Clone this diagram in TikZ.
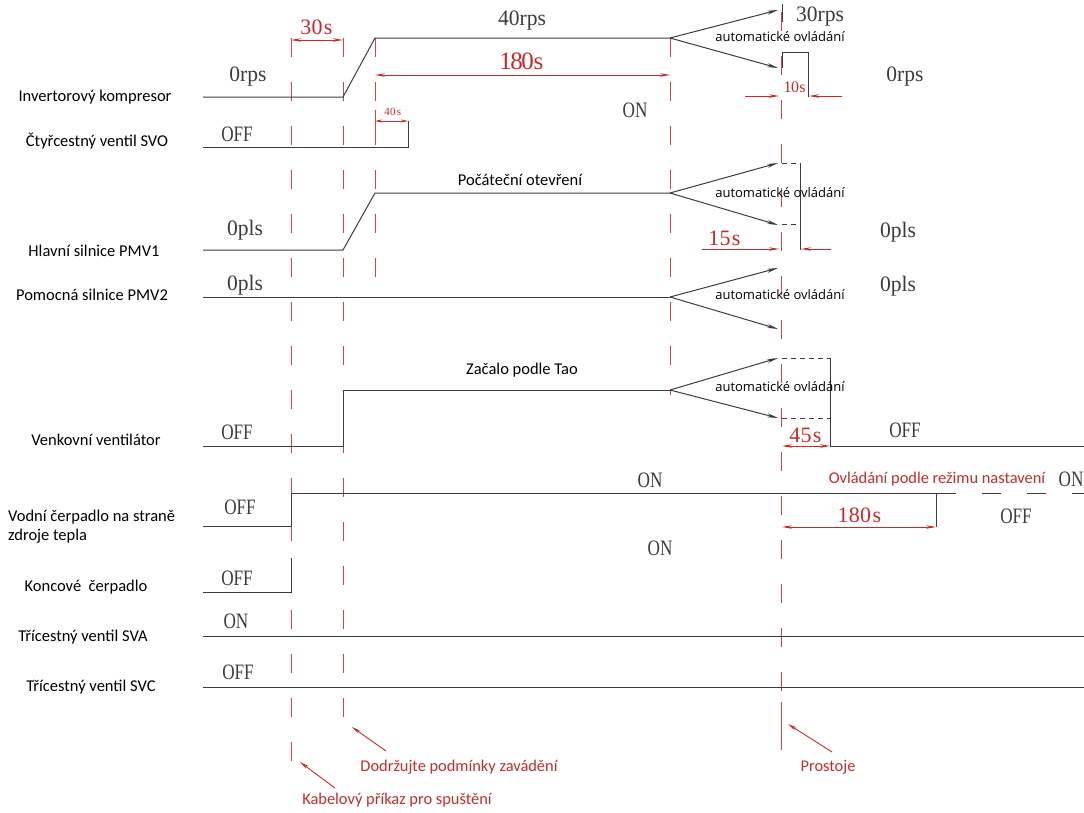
\documentclass[tikz,border=0pt]{standalone}
\usepackage{fontspec}
\setmainfont{Liberation Serif}
\newfontfamily\valfont[FakeStretch=0.78]{Liberation Serif}
\newfontfamily\unitfont[FakeStretch=0.98]{Liberation Serif}
\newfontfamily\dimfont{Liberation Serif}
\newfontfamily\labfont{Carlito}
\newfontfamily\autofont{Open Sans}
\usetikzlibrary{arrows.meta}
\definecolor{sigc}{RGB}{60,60,60}
\definecolor{guidec}{RGB}{210,70,70}
\definecolor{dimc}{RGB}{205,40,40}
\definecolor{txtred}{RGB}{195,45,45}
% monospaced setting: every character in a box of width \monow
\newlength\monow
\def\mono#1{\monoi#1\relax}
\def\monoi#1{\ifx#1\relax\else\makebox[\monow][c]{#1}\expandafter\monoi\fi}
\tikzset{
  sig/.style={draw=sigc, line width=1pt},
  guide/.style={draw=guidec, line width=1pt, dash pattern=on 19pt off 25pt},
  dim/.style={draw=dimc, line width=0.9pt, {Stealth[length=10pt,width=3.5pt]}-{Stealth[length=10pt,width=3.5pt]}},
  dimone/.style={draw=dimc, line width=0.9pt, -{Stealth[length=10pt,width=3.5pt]}},
  arr/.style={sig, -{Stealth[length=11pt,width=4pt]}},
  boxdash/.style={draw=sigc, line width=1pt, dash pattern=on 5pt off 4pt},
  annot/.style={draw=txtred, line width=0.9pt, -{Stealth[length=9pt,width=3.5pt]}},
  lab/.style={font=\labfont\fontsize{16.5}{19}\selectfont, text=black, inner sep=0pt},
  midlab/.style={font=\labfont\fontsize{16.5}{19}\selectfont, text=black, inner sep=0pt},
  val/.style={font=\valfont\fontsize{22}{24}\selectfont, text=sigc, inner sep=0pt},
  unit/.style={font=\unitfont\fontsize{22}{24}\selectfont, text=sigc, inner sep=0pt},
  dimtxt/.style={font=\dimfont\fontsize{22}{24}\selectfont\setlength\monow{11.2pt}, text=dimc, inner sep=0pt},
  dimbig/.style={font=\dimfont\fontsize{25}{27}\selectfont\setlength\monow{11pt}, text=dimc, inner sep=0pt},
  dimsmall/.style={font=\dimfont\fontsize{16}{18}\selectfont\setlength\monow{7.4pt}, text=dimc, inner sep=0pt},
  dimtiny/.style={font=\dimfont\fontsize{11}{13}\selectfont\setlength\monow{6pt}, text=dimc, inner sep=0pt},
  auto/.style={font=\autofont\fontsize{13}{15}\selectfont, text=black, inner sep=0pt},
  redlab/.style={font=\labfont\fontsize{16.4}{19}\selectfont, text=txtred, inner sep=0pt},
}
\begin{document}
\begin{tikzpicture}[x=1pt,y=-1pt]
\useasboundingbox (0,0) rectangle (1084,812);
\fill[white] (0,0) rectangle (1084,812);

% ---------- vertical guides ----------
\coordinate (g1t) at (291,38);  \coordinate (g1b) at (291,778);
\coordinate (g2t) at (343,38);  \coordinate (g2b) at (343,732);
\coordinate (g3t) at (375,38);  \coordinate (g3b) at (375,292);
\coordinate (g4t) at (670,38);  \coordinate (g4b) at (670,395);
\coordinate (g5t) at (781,12);  \coordinate (g5m) at (781,702); \coordinate (g5b) at (781,750);
\draw[guide] (g1t) -- (g1b);
\draw[guide] (g2t) -- (g2b);
\draw[guide] (g3t) -- (g3b);
\draw[guide] (g4t) -- (g4b);
\draw[guide] (g5t) -- (g5m);
\draw[draw=guidec, line width=1pt] (g5m) -- (g5b);

% ---------- left labels ----------
\node[lab] (l1) at (95,97) {Invertorový kompresor};
\node[lab] (l2) at (97,141) {Čtyřcestný ventil SVO};
\node[lab] (l3) at (94,251) {Hlavní silnice PMV1};
\node[lab] (l4) at (92,295) {Pomocná silnice PMV2};
\node[lab] (l5) at (96,440) {Venkovní ventilátor};
\node[lab, anchor=west, align=left] (l6) at (8,527) {Vodní čerpadlo na straně\\zdroje tepla};
\node[lab] (l7) at (86,587) {Koncové\ \ čerpadlo};
\node[lab] (l8) at (83,637) {Třícestný ventil SVA};
\node[lab] (l9) at (91,687) {Třícestný ventil SVC};

% ---------- 1: compressor ----------
\coordinate (c0) at (203,97); \coordinate (c1) at (343,97); \coordinate (c2) at (375,38);
\coordinate (c3) at (670,38); \coordinate (c4) at (778,10); \coordinate (c5) at (778,68);
\draw[sig] (c0) -- (c1) -- (c2) -- (c3);
\draw[arr] (c3) -- (c4);
\draw[arr] (c3) -- (c5);
\coordinate (cb0) at (782,4); \coordinate (cb1) at (782,22);
\draw[sig] (cb0) -- (cb1);
\coordinate (cb2) at (782,68); \coordinate (cb3) at (782,52); \coordinate (cb4) at (808,52); \coordinate (cb5) at (808,97);
\draw[sig] (cb2) -- (cb3) -- (cb4) -- (cb5);
\node[unit] (v0rps) at (248,77) {0rps};
\node[unit] (v40) at (522,21) {40rps};
\node[val] (von1) at (635,110) {ON};
\node[unit] (v30) at (820,17) {30rps};
\node[auto] (a1) at (780,37) {automatické ovládání};
\node[unit] (v0rps2) at (905,77) {0rps};
% 30s
\coordinate (d30a) at (291,40); \coordinate (d30b) at (343,40);
\draw[dim] (d30a) -- (d30b);
\node[dimtxt] (t30) at (317,27) {\mono{30s}};
% 180s
\coordinate (d180a) at (375,75); \coordinate (d180b) at (670,75);
\draw[dim] (d180a) -- (d180b);
\node[dimbig] (t180) at (522,61) {\mono{180s}};
% 10s
\coordinate (d10a) at (745,96); \coordinate (d10b) at (779,96);
\coordinate (d10c) at (842,96); \coordinate (d10d) at (809,96);
\draw[dimone] (d10a) -- (d10b);
\draw[dimone] (d10c) -- (d10d);
\node[dimsmall] (t10) at (795,87) {\mono{10s}};

% ---------- 2: SVO ----------
\coordinate (s0) at (203,147); \coordinate (s1) at (408,147); \coordinate (s2) at (408,121);
\draw[sig] (s0) -- (s1) -- (s2);
\node[val] (voff2) at (237,134) {OFF};
\coordinate (d40a) at (375,121); \coordinate (d40b) at (408,121);
\draw[draw=dimc, line width=0.8pt, {Stealth[length=7pt,width=3pt]}-{Stealth[length=7pt,width=3pt]}] (d40a) -- (d40b);
\coordinate (e40a) at (375,110); \coordinate (e40b) at (375,132);
\draw[draw=guidec, line width=0.9pt] (e40a) -- (e40b);
\node[dimtiny] (t40) at (393,112) {\mono{40s}};

% ---------- 3: PMV1 ----------
\coordinate (p0) at (203,250); \coordinate (p1) at (343,250); \coordinate (p2) at (375,193);
\coordinate (p3) at (670,193); \coordinate (p4) at (778,163); \coordinate (p5) at (778,225);
\draw[sig] (p0) -- (p1) -- (p2) -- (p3);
\draw[arr] (p3) -- (p4);
\draw[arr] (p3) -- (p5);
\coordinate (pb0) at (782,163); \coordinate (pb1) at (800,163); \coordinate (pb2) at (800,250);
\coordinate (pb3) at (782,224); \coordinate (pb4) at (800,224);
\draw[boxdash] (pb0) -- (pb1);
\draw[boxdash] (pb3) -- (pb4);
\draw[sig] (pb1) -- (pb2);
\node[midlab] (tpo) at (520,180) {Počáteční otevření};
\node[unit] (vp1) at (245,230) {0pls};
\node[auto] (a2) at (780,193) {automatické ovládání};
\node[unit] (vp2) at (898,232) {0pls};
\coordinate (d15a) at (702,249); \coordinate (d15b) at (779,249);
\coordinate (d15c) at (831,249); \coordinate (d15d) at (801,249);
\draw[dimone] (d15a) -- (d15b);
\draw[dimone] (d15c) -- (d15d);
\node[dimtxt] (t15) at (725,238) {\mono{15s}};

% ---------- 4: PMV2 ----------
\coordinate (q0) at (203,297); \coordinate (q1) at (670,297);
\coordinate (q2) at (778,268); \coordinate (q3) at (778,329);
\draw[sig] (q0) -- (q1);
\draw[arr] (q1) -- (q2);
\draw[arr] (q1) -- (q3);
\node[unit] (vq1) at (245,285) {0pls};
\node[auto] (a3) at (780,295) {automatické ovládání};
\node[unit] (vq2) at (898,286) {0pls};

% ---------- 5: fan ----------
\coordinate (f0) at (203,446); \coordinate (f1) at (343,446); \coordinate (f2) at (343,390);
\coordinate (f3) at (670,390); \coordinate (f4) at (778,358); \coordinate (f5) at (778,418);
\draw[sig] (f0) -- (f1) -- (f2) -- (f3);
\draw[arr] (f3) -- (f4);
\draw[arr] (f3) -- (f5);
\coordinate (fb0) at (782,358); \coordinate (fb1) at (830,358);
\coordinate (fb2) at (782,418); \coordinate (fb3) at (830,418);
\coordinate (fb4) at (830,446); \coordinate (fb5) at (1084,446);
\draw[boxdash] (fb0) -- (fb1);
\draw[boxdash] (fb2) -- (fb3);
\draw[sig] (fb1) -- (fb4) -- (fb5);
\node[midlab] (tzt) at (522,370) {Začalo podle Tao};
\node[auto] (a4) at (780,387) {automatické ovládání};
\node[val] (vf1) at (237,432) {OFF};
\node[val] (vf2) at (905,430) {OFF};
\coordinate (d45a) at (782,446); \coordinate (d45b) at (830,446);
\draw[dim] (d45a) -- (d45b);
\node[dimtxt] (t45) at (806,435) {\mono{45s}};

% ---------- 6: source pump ----------
\coordinate (w0) at (203,526); \coordinate (w1) at (291,526); \coordinate (w2) at (291,493);
\coordinate (w3) at (956,493); \coordinate (w4) at (1084,493);
\draw[sig] (w0) -- (w1) -- (w2) -- (w3);
\draw[sig, dash pattern=on 19pt off 26pt, dash phase=19pt] (w3) -- (w4);
\coordinate (wb0) at (936,493); \coordinate (wb1) at (936,527);
\draw[sig] (wb0) -- (wb1);
\coordinate (d180c) at (782,527); \coordinate (d180d) at (936,527);
\draw[dim] (d180c) -- (d180d);
\node[dimtxt] (t180b) at (860,515) {\mono{180s}};
\node[val] (vw1) at (240,507) {OFF};
\node[val] (vw2) at (650,480) {ON};
\node[redlab] (tov) at (937,479) {Ovládání podle režimu nastavení};
\node[val] (vw3) at (1071,479) {ON};
\node[val] (vw4) at (1016,516) {OFF};

% ---------- 7: terminal pump ----------
\coordinate (k0) at (203,592); \coordinate (k1) at (291,592); \coordinate (k2) at (291,558);
\draw[sig] (k0) -- (k1) -- (k2);
\node[val] (vk1) at (237,578) {OFF};
\node[val] (vk2) at (660,548) {ON};

% ---------- 8, 9: valves ----------
\coordinate (a0) at (203,636); \coordinate (a9) at (1084,636);
\draw[sig] (a0) -- (a9);
\node[val] (va1) at (236,621) {ON};
\coordinate (b0) at (203,687); \coordinate (b9) at (1084,687);
\draw[sig] (b0) -- (b9);
\node[val] (vb1) at (238,672) {OFF};

% ---------- bottom annotations ----------
\node[redlab] (n1) at (459,767) {Dodržujte podmínky zavádění};
\node[redlab] (n2) at (397,800) {Kabelový příkaz pro spuštění};
\node[redlab] (n3) at (828,767) {Prostoje};
\coordinate (n1s) at (386,751); \coordinate (n1e) at (352,727);
\coordinate (n2s) at (335,788); \coordinate (n2e) at (300,762);
\coordinate (n3s) at (832,752); \coordinate (n3e) at (788,724);
\draw[annot] (n1s) -- (n1e);
\draw[annot] (n2s) -- (n2e);
\draw[annot] (n3s) -- (n3e);
\end{tikzpicture}
\end{document}
